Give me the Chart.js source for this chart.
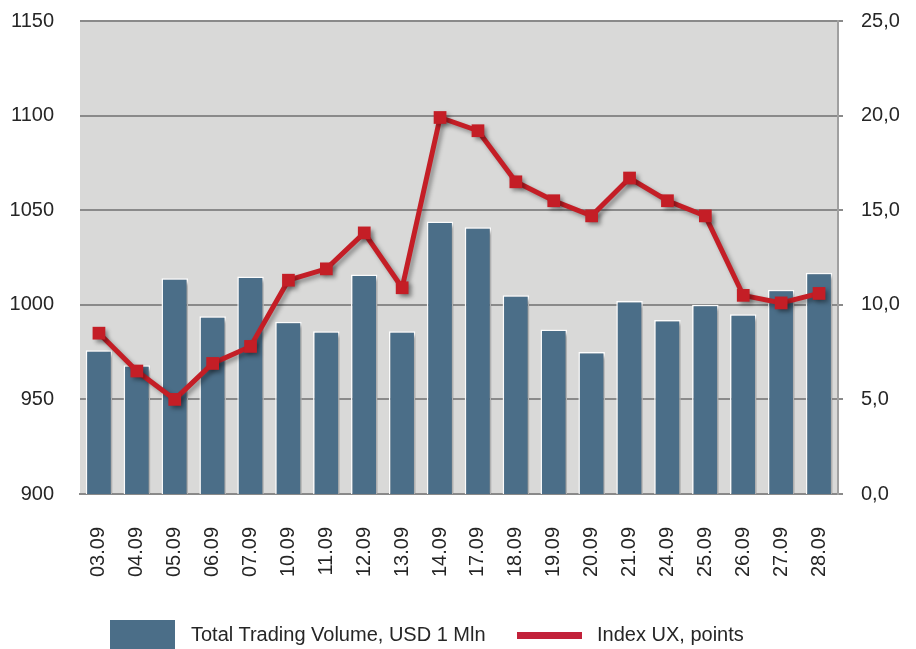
<!DOCTYPE html>
<html>
<head>
<meta charset="utf-8">
<script src="https://cdn.jsdelivr.net/npm/chart.js@4.4.1/dist/chart.umd.min.js"></script>
<style>
  html, body { margin: 0; padding: 0; background: #fff; }
  #wrap { position: relative; width: 916px; height: 649px; }
  #legend { position: absolute; left: 0; top: 620px; width: 916px; height: 29px;
    font-family: "Liberation Sans", Helvetica, Arial, sans-serif; font-size: 20px; color: #262626; }
  .sw { position: absolute; }
  .lt { position: absolute; top: 3px; white-space: nowrap; }
</style>
</head>
<body>
<div id="wrap">
  <canvas id="chart" width="916" height="649"></canvas>
  <div id="legend">
    <div class="sw" style="left:110px;top:0;width:65px;height:29px;background:#4b6e88"></div>
    <div class="lt" style="left:191px">Total Trading Volume, USD 1 Mln</div>
    <div class="sw" style="left:517px;top:12px;width:65px;height:7px;background:#c2213a"></div>
    <div class="lt" style="left:597px">Index UX, points</div>
  </div>
</div>
<script>
var labels = ["03.09","04.09","05.09","06.09","07.09","10.09","11.09","12.09","13.09","14.09",
              "17.09","18.09","19.09","20.09","21.09","24.09","25.09","26.09","27.09","28.09"];
var volume = [976, 968, 1014, 994, 1015, 991, 986, 1016, 986, 1044,
              1041, 1005, 987, 975, 1002, 992, 1000, 995, 1008, 1017];
var indexUX = [8.5, 6.5, 5.0, 6.9, 7.8, 11.3, 11.9, 13.8, 10.9, 19.9,
               19.2, 16.5, 15.5, 14.7, 16.7, 15.5, 14.7, 10.5, 10.1, 10.6];

var fontFam = '"Liberation Sans", Helvetica, Arial, sans-serif';
var textColor = '#262626';

var plotBg = {
  id: 'plotBg',
  beforeDraw: function (chart) {
    var a = chart.chartArea, ctx = chart.ctx;
    ctx.save();
    ctx.fillStyle = '#d9d9d8';
    ctx.fillRect(a.left, a.top, a.right - a.left, a.bottom - a.top);
    ctx.restore();
  }
};

var shadow = {
  id: 'shadow',
  beforeDatasetDraw: function (chart) {
    var ctx = chart.ctx;
    ctx.save();
    ctx.shadowColor = 'rgba(0,0,0,0.35)';
    ctx.shadowOffsetX = 3;
    ctx.shadowOffsetY = 3;
    ctx.shadowBlur = 4;
  },
  afterDatasetDraw: function (chart) {
    chart.ctx.restore();
  }
};

new Chart(document.getElementById('chart'), {
  type: 'bar',
  data: {
    labels: labels,
    datasets: [
      {
        type: 'line',
        label: 'Index UX, points',
        data: indexUX,
        yAxisID: 'y1',
        borderColor: '#c41e26',
        backgroundColor: '#c41e26',
        borderWidth: 5,
        pointStyle: 'rect',
        pointRadius: 9,
        pointBorderWidth: 0,
        tension: 0,
        order: 0
      },
      {
        type: 'bar',
        label: 'Total Trading Volume, USD 1 Mln',
        data: volume,
        yAxisID: 'y',
        backgroundColor: '#4b6e88',
        borderColor: '#ffffff',
        borderWidth: 1.5,
        barPercentage: 0.7,
        categoryPercentage: 1,
        order: 1
      }
    ]
  },
  options: {
    responsive: false,
    animation: false,
    layout: { padding: { top: 21, left: 0, right: 0, bottom: 0 } },
    plugins: {
      legend: { display: false },
      tooltip: { enabled: false }
    },
    scales: {
      x: {
        grid: { display: false, drawTicks: false },
        border: { display: true, color: '#8a8a8a', width: 2 },
        ticks: {
          minRotation: 90, maxRotation: 90, padding: 33,
          color: textColor, font: { family: fontFam, size: 20 }
        },
        afterFit: function (s) { s.height = 155; s.paddingLeft = 0; s.paddingRight = 0; }
      },
      y: {
        position: 'left',
        min: 900, max: 1150,
        grid: { display: false },
        border: { display: false },
        ticks: {
          stepSize: 50, padding: 18,
          color: textColor, font: { family: fontFam, size: 20 },
          callback: function (v) { return String(v); }
        },
        afterFit: function (s) { s.width = 80; s.paddingTop = 0; s.paddingBottom = 0; }
      },
      y1: {
        position: 'right',
        min: 0, max: 25,
        grid: { color: '#8a8a8a', lineWidth: 2, tickLength: 5 },
        border: { display: true, color: '#a0a0a0', width: 2 },
        ticks: {
          stepSize: 5, padding: 18,
          color: textColor, font: { family: fontFam, size: 20 },
          callback: function (v) { return v.toFixed(1).replace('.', ','); }
        },
        afterFit: function (s) { s.width = 78; s.paddingTop = 0; s.paddingBottom = 0; }
      }
    }
  },
  plugins: [plotBg, shadow]
});
</script>
</body>
</html>
